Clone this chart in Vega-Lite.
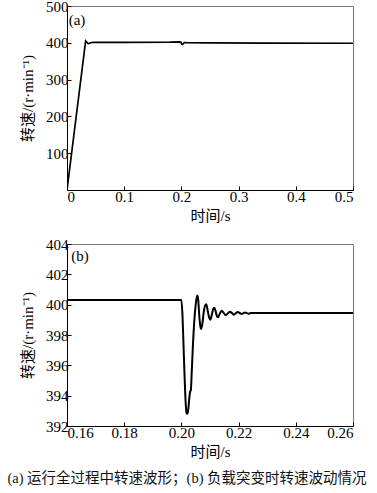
{
  "$schema": "https://vega.github.io/schema/vega-lite/v6.json",
  "padding": {"left": 3, "top": -2, "right": 5, "bottom": 4},
  "background": "white",
  "datasets": {
    "a": [
      {"t": 0, "v": 0},
      {"t": 0.0326, "v": 405},
      {"t": 0.0345, "v": 402},
      {"t": 0.0365, "v": 398},
      {"t": 0.038, "v": 397.5},
      {"t": 0.040, "v": 399.5},
      {"t": 0.045, "v": 401.2},
      {"t": 0.10, "v": 401.3},
      {"t": 0.18, "v": 401.8},
      {"t": 0.195, "v": 402.5},
      {"t": 0.199, "v": 402},
      {"t": 0.2005, "v": 396.5},
      {"t": 0.202, "v": 395.5},
      {"t": 0.2035, "v": 398},
      {"t": 0.205, "v": 400.5},
      {"t": 0.208, "v": 400.3},
      {"t": 0.25, "v": 399.8},
      {"t": 0.35, "v": 399.3},
      {"t": 0.5, "v": 398.8}
    ],
    "b": [
      {"t": 0.160, "v": 400.3},
      {"t": 0.2000, "v": 400.3},
      {"t": 0.2004, "v": 399.2},
      {"t": 0.2008, "v": 397.0},
      {"t": 0.2012, "v": 394.8},
      {"t": 0.2015, "v": 393.5},
      {"t": 0.2018, "v": 392.85},
      {"t": 0.2021, "v": 392.8},
      {"t": 0.2024, "v": 393.1},
      {"t": 0.2028, "v": 393.9},
      {"t": 0.2031, "v": 394.3},
      {"t": 0.2033, "v": 394.35},
      {"t": 0.2036, "v": 395.5},
      {"t": 0.2040, "v": 397.2},
      {"t": 0.2045, "v": 398.9},
      {"t": 0.2050, "v": 400.0},
      {"t": 0.2054, "v": 400.5},
      {"t": 0.2056, "v": 400.6},
      {"t": 0.2059, "v": 400.3},
      {"t": 0.2062, "v": 399.4},
      {"t": 0.2066, "v": 398.6},
      {"t": 0.2069, "v": 398.4},
      {"t": 0.2073, "v": 398.7},
      {"t": 0.2078, "v": 399.5},
      {"t": 0.2083, "v": 399.95},
      {"t": 0.2087, "v": 400.03},
      {"t": 0.2092, "v": 399.6},
      {"t": 0.2097, "v": 399.15},
      {"t": 0.2101, "v": 399.0},
      {"t": 0.2106, "v": 399.3},
      {"t": 0.2111, "v": 399.7},
      {"t": 0.2115, "v": 399.8},
      {"t": 0.2120, "v": 399.55},
      {"t": 0.2124, "v": 399.25},
      {"t": 0.2128, "v": 399.17},
      {"t": 0.2134, "v": 399.4},
      {"t": 0.2141, "v": 399.6},
      {"t": 0.2148, "v": 399.45},
      {"t": 0.2155, "v": 399.3},
      {"t": 0.2162, "v": 399.42},
      {"t": 0.2170, "v": 399.54},
      {"t": 0.2177, "v": 399.44},
      {"t": 0.2184, "v": 399.34},
      {"t": 0.2190, "v": 399.43},
      {"t": 0.2197, "v": 399.52},
      {"t": 0.2204, "v": 399.45},
      {"t": 0.2211, "v": 399.38},
      {"t": 0.2217, "v": 399.44},
      {"t": 0.2223, "v": 399.49},
      {"t": 0.2229, "v": 399.44},
      {"t": 0.2235, "v": 399.40},
      {"t": 0.2242, "v": 399.45},
      {"t": 0.2260, "v": 399.45},
      {"t": 0.2600, "v": 399.45}
    ],
    "la": [{"t": 0.003, "v": 481, "label": "(a)"}],
    "lb": [{"t": 0.1615, "v": 403.7, "label": "(b)"}]
  },
  "vconcat": [
    {
      "width": 286,
      "height": 184,
      "encoding": {
        "x": {"field": "t", "type": "quantitative", "scale": {"domain": [0, 0.5], "nice": false},
              "axis": {"values": [0, 0.1, 0.2, 0.3, 0.4, 0.5], "format": "~g", "title": "时间/s", "labelOverlap": false}},
        "y": {"field": "v", "type": "quantitative", "scale": {"domain": [0, 500], "nice": false},
              "axis": {"values": [100, 200, 300, 400, 500], "title": "转速/(r·min⁻¹)", "labelOverlap": false}}
      },
      "layer": [
        {
          "data": {"name": "a"},
          "mark": {"type": "line", "color": "black", "strokeWidth": 1.7, "clip": true}
        },
        {
          "data": {"name": "la"},
          "mark": {"type": "text", "align": "left", "baseline": "top", "font": "Liberation Serif", "fontSize": 15, "color": "black"},
          "encoding": {"text": {"field": "label"}}
        }
      ]
    },
    {
      "width": 286,
      "height": 182,
      "encoding": {
        "x": {"field": "t", "type": "quantitative", "scale": {"domain": [0.16, 0.26], "nice": false, "zero": false},
              "axis": {"values": [0.16, 0.18, 0.2, 0.22, 0.24, 0.26], "format": ".2f", "title": "时间/s", "labelOverlap": false}},
        "y": {"field": "v", "type": "quantitative", "scale": {"domain": [392, 404], "nice": false, "zero": false},
              "axis": {"values": [392, 394, 396, 398, 400, 402, 404], "title": "转速/(r·min⁻¹)", "labelOverlap": false}}
      },
      "layer": [
        {
          "data": {"name": "b"},
          "mark": {"type": "line", "color": "black", "strokeWidth": 2, "interpolate": "monotone", "clip": true}
        },
        {
          "data": {"name": "lb"},
          "mark": {"type": "text", "align": "left", "baseline": "top", "font": "Liberation Serif", "fontSize": 15, "color": "black"},
          "encoding": {"text": {"field": "label"}}
        }
      ]
    }
  ],
  "spacing": 12,
  "title": {
    "text": "(a)  运行全过程中转速波形；(b)  负载突变时转速波动情况",
    "orient": "bottom",
    "anchor": "middle",
    "font": "Liberation Serif, Noto Sans CJK SC",
    "fontSize": 14.5,
    "fontWeight": "normal",
    "color": "#111",
    "offset": 12
  },
  "config": {
    "view": {"stroke": "#777", "strokeWidth": 1},
    "axis": {
      "grid": false,
      "domainColor": "#000",
      "domainWidth": 1,
      "tickColor": "#000",
      "tickSize": -4,
      "labelPadding": 3,
      "labelFont": "Liberation Serif",
      "labelFontSize": 15,
      "labelColor": "#000",
      "titleFont": "Liberation Serif, Noto Sans CJK SC",
      "titleFontSize": 15,
      "titleFontWeight": "normal",
      "titleColor": "#000"
    },
    "axisY": {"titlePadding": 10},
    "axisX": {"titlePadding": 4}
  }
}
